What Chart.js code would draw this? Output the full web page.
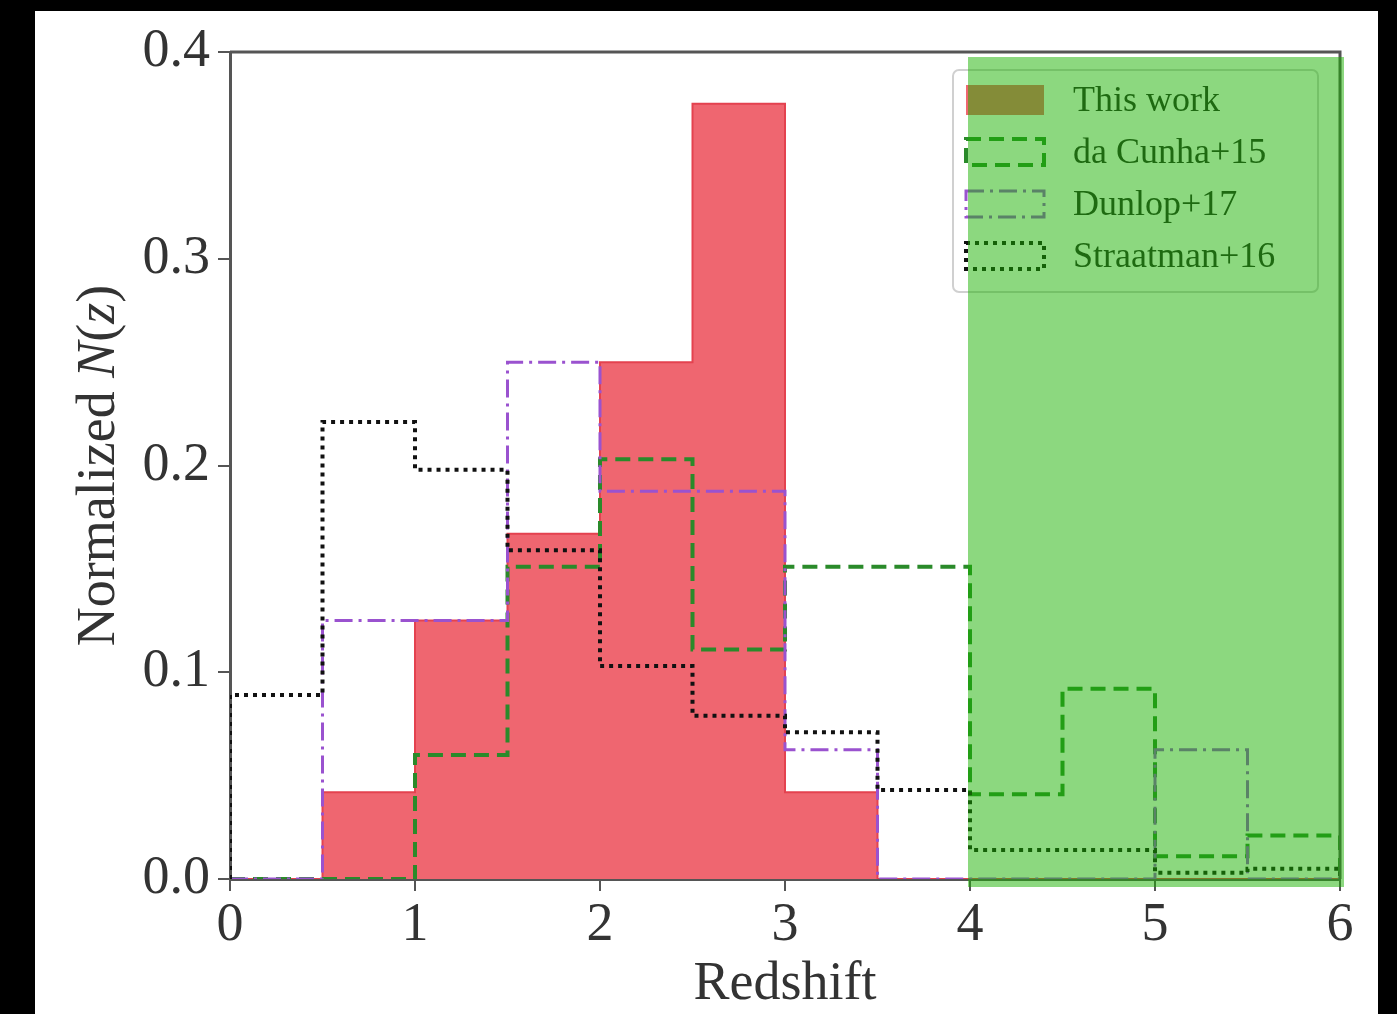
<!DOCTYPE html>
<html>
<head>
<meta charset="utf-8">
<script src="https://cdn.jsdelivr.net/npm/chart.js@4.4.1/dist/chart.umd.min.js"></script>
<style>
  html, body { margin: 0; padding: 0; background: #000; }
  #frame { position: absolute; left: 35px; top: 11px; width: 1343px; height: 1003px; background: #fff; }
</style>
</head>
<body>
<div id="frame"><canvas id="nzChart" width="1343" height="1003"></canvas></div>
<script>
// bin edges of the redshift histograms (width 0.5)
const binEdges = [0, 0.5, 1, 1.5, 2, 2.5, 3, 3.5, 4, 4.5, 5, 5.5, 6];

const thisWork   = [0, 0.042, 0.125, 0.167, 0.25, 0.375, 0.042, 0, 0, 0, 0, 0];
const daCunha15  = [0, 0, 0.06, 0.151, 0.203, 0.111, 0.151, 0.151, 0.041, 0.092, 0.011, 0.021];
const dunlop17   = [0, 0.125, 0.125, 0.25, 0.1875, 0.1875, 0.0625, 0, 0, 0, 0.0625, 0];
const straatman16 = [0.089, 0.221, 0.198, 0.159, 0.103, 0.079, 0.071, 0.043, 0.014, 0.014, 0.003, 0.005];

const xTicks = [0, 1, 2, 3, 4, 5, 6];
const yTicks = [0, 0.1, 0.2, 0.3, 0.4];

const highlightRange = [4, 6];

const serif = "'Liberation Serif', 'DejaVu Serif', serif";

// step outline like matplotlib histtype='step'
function stepPoints(values) {
    const pts = [{ x: binEdges[0], y: 0 }];
    values.forEach((v, i) => pts.push({ x: binEdges[i], y: v }));
    const last = binEdges[binEdges.length - 1];
    pts.push({ x: last, y: values[values.length - 1] });
    pts.push({ x: last, y: 0 });
    return pts;
}

const series = [
    { label: 'This work', data: thisWork, color: '#e4424f', fill: '#ef6670', dash: [], width: 2, order: 4 },
    { label: 'da Cunha+15', data: daCunha15, color: '#2a8a2a', fill: null, dash: [15, 8], width: 4, order: 3 },
    { label: 'Dunlop+17', data: dunlop17, color: '#9a52cf', fill: null, dash: [18, 6, 3, 6], width: 3, order: 2 },
    { label: 'Straatman+16', data: straatman16, color: '#111111', fill: null, dash: [4, 5], width: 4, order: 1 }
];

const overlayPlugin = {
    id: 'overlay',
    afterDatasetsDraw(chart) {
        const { ctx, chartArea: a, scales } = chart;
        ctx.save();
        // frame (top and right spines)
        ctx.strokeStyle = '#555';
        ctx.lineWidth = 3;
        ctx.beginPath();
        ctx.moveTo(a.left, a.top);
        ctx.lineTo(a.right, a.top);
        ctx.lineTo(a.right, a.bottom);
        ctx.stroke();

        // legend
        const lx = 918, ly = 59, lw = 365, lh = 222;
        ctx.beginPath();
        ctx.roundRect(lx, ly, lw, lh, 6);
        ctx.fillStyle = 'rgba(255,255,255,0.85)';
        ctx.fill();
        ctx.strokeStyle = '#d0d0d0';
        ctx.lineWidth = 2;
        ctx.stroke();
        ctx.font = '36px ' + serif;
        ctx.textBaseline = 'middle';
        series.forEach((s, i) => {
            const cy = ly + 30 + i * 52;
            const hx = lx + 13, hw = 78, hh = 26;
            if (s.fill) {
                ctx.fillStyle = s.fill;
                ctx.fillRect(hx, cy - 15, hw, 30);
            } else {
                ctx.setLineDash(s.dash);
                ctx.strokeStyle = s.color;
                ctx.lineWidth = s.width;
                ctx.strokeRect(hx, cy - hh / 2, hw, hh);
                ctx.setLineDash([]);
            }
            ctx.fillStyle = '#222';
            ctx.fillText(s.label, lx + 120, cy + 2);
        });

        // y axis title with italic N(z)
        ctx.translate(65, (a.top + a.bottom) / 2);
        ctx.rotate(-Math.PI / 2);
        const parts = [['Normalized ', ''], ['N', 'italic '], ['(', ''], ['z', 'italic '], [')', '']];
        let total = 0;
        parts.forEach(p => { ctx.font = p[1] + '54px ' + serif; total += ctx.measureText(p[0]).width; });
        let x = -total / 2;
        ctx.fillStyle = '#333';
        ctx.textBaseline = 'middle';
        parts.forEach(p => {
            ctx.font = p[1] + '54px ' + serif;
            ctx.fillText(p[0], x, 0);
            x += ctx.measureText(p[0]).width;
        });
        ctx.restore();

        // green highlight box
        ctx.save();
        const x0 = scales.x.getPixelForValue(highlightRange[0]) - 2;
        const x1 = scales.x.getPixelForValue(highlightRange[1]) + 4;
        ctx.fillStyle = 'rgba(25,177,0,0.5)';
        ctx.fillRect(x0, a.top + 5, x1 - x0, a.bottom - a.top + 3);
        ctx.restore();
    }
};

const ctx = document.getElementById('nzChart').getContext('2d');
new Chart(ctx, {
    type: 'line',
    data: {
        datasets: series.map(s => ({
            label: s.label,
            data: stepPoints(s.data),
            borderColor: s.color,
            borderWidth: s.width,
            borderDash: s.dash,
            backgroundColor: s.fill || 'transparent',
            fill: s.fill ? 'origin' : false,
            stepped: 'before',
            pointRadius: 0,
            tension: 0,
            order: s.order
        }))
    },
    options: {
        responsive: false,
        animation: false,
        layout: { padding: { top: 41, right: 38, left: 0, bottom: 0 } },
        plugins: {
            legend: { display: false },
            tooltip: { enabled: false }
        },
        scales: {
            x: {
                type: 'linear',
                min: 0,
                max: 6,
                afterFit: (scale) => { scale.height = 135; },
                afterBuildTicks: (scale) => { scale.ticks = xTicks.map(v => ({ value: v })); },
                ticks: {
                    font: { family: serif, size: 54 },
                    color: '#333',
                    padding: 2,
                    maxRotation: 0
                },
                grid: { drawOnChartArea: false, tickLength: 12, color: '#555', lineWidth: 2 },
                border: { color: '#555', width: 3 },
                title: {
                    display: true,
                    text: 'Redshift',
                    font: { family: serif, size: 54, lineHeight: 1 },
                    color: '#333',
                    padding: { top: 0, bottom: 2 }
                }
            },
            y: {
                min: 0,
                max: 0.4,
                afterFit: (scale) => { scale.width = 195; },
                afterBuildTicks: (scale) => { scale.ticks = yTicks.map(v => ({ value: v })); },
                ticks: {
                    font: { family: serif, size: 54 },
                    color: '#333',
                    padding: 8,
                    callback: (v) => v.toFixed(1)
                },
                grid: { drawOnChartArea: false, tickLength: 12, color: '#555', lineWidth: 2 },
                border: { color: '#555', width: 3 }
            }
        }
    },
    plugins: [overlayPlugin]
});
</script>
</body>
</html>
